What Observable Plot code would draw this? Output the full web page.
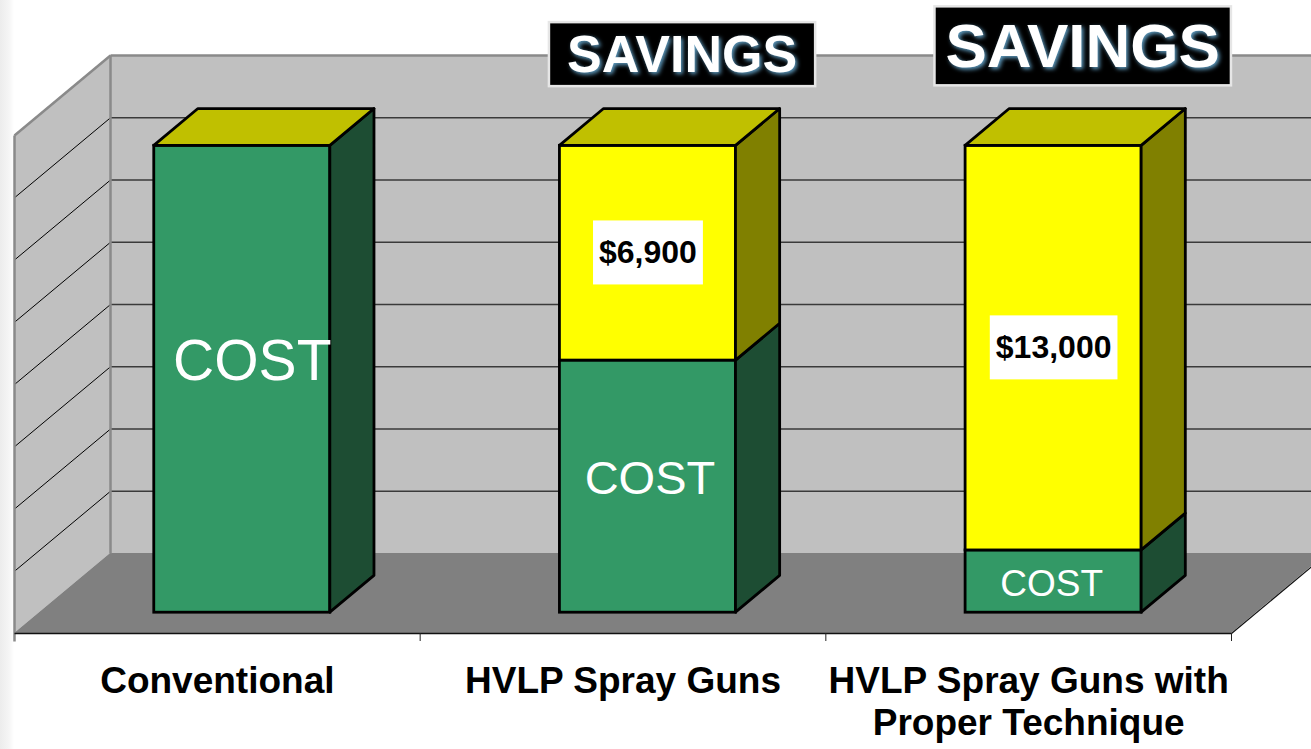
<!DOCTYPE html>
<html>
<head>
<meta charset="utf-8">
<script src="https://cdn.jsdelivr.net/npm/d3@7"></script>
<script src="https://cdn.jsdelivr.net/npm/@observablehq/plot@0.6"></script>
<style>
  html, body { margin: 0; padding: 0; }
  body { width: 1311px; height: 749px; overflow: hidden;
         background: linear-gradient(to right, #ececec 0px, #f5f5f5 9px, #ffffff 14px); }
  #chart svg { display: block; }
</style>
</head>
<body>
<div id="chart"></div>
<script>
// ---------------- data ----------------
const categories = ["Conventional", "HVLP Spray Guns", "HVLP Spray Guns with Proper Technique"];
const cost = [15000, 8100, 2000];
const savings = [0, 6900, 13000];
const savingsText = ["", "$6,900", "$13,000"];
const costText = "COST";
const headText = "SAVINGS";
const gridValues = [2000, 4000, 6000, 8000, 10000, 12000, 14000];
const valueMax = 16000;

// ---------------- layout / style ----------------
const W = 1311, H = 749;
const margin = {top: 135, right: 80, bottom: 116, left: 14};
const n = categories.length;
const pxPerU = (W - margin.left - margin.right) / n;
const pxPerV = (H - margin.top - margin.bottom) / valueMax;
const depthPx = [96, 80];                 // full floor depth, in pixels
const KX = depthPx[0] / pxPerU;           // depth -> x units
const KY = depthPx[1] / pxPerV;           // depth -> value units
const barW = 0.434, d0 = 0.26, d1 = 0.72; // bar width (band fraction) and depth span
const tickPx = 8;
const colors = {
  wall: "#C0C0C0", floor: "#808080", wallEdge: "#8a8a8a", grid: "#3a3a3a",
  costFront: "#339966", costSide: "#1D4D33",
  savFront: "#FFFF00", savSide: "#808000", savTop: "#C0C000"
};
const barStroke = 2.8;
const costSize = [57, 47, 37];
const costShift = [[10, -18], [2, -8], [-2, 3]];   // px
const savSize = 32;
const savPad = [6, 14];
const headSize = {1: 52, 2: 62};
const headShift = {1: [12, 0], 2: [7, -8]};         // px
const headPad = {52: [18, 3], 62: [11, 5]};

// ---------------- derived tables ----------------
const bars = categories.map((c, i) => ({
  i, c,
  xl: i + 0.5 - barW / 2,
  xr: i + 0.5 + barW / 2,
  cost: cost[i],
  total: cost[i] + savings[i]
}));

const segs = bars.flatMap(b => [
  {id: b.i + "c", xl: b.xl, xr: b.xr, v0: 0, v1: b.cost, front: colors.costFront, side: colors.costSide},
  {id: b.i + "s", xl: b.xl, xr: b.xr, v0: b.cost, v1: b.total, front: colors.savFront, side: colors.savSide}
]).filter(s => s.v1 > s.v0);

const sideData = segs.flatMap(s => [d0, d1].map(d => ({
  id: s.id, fill: s.side, x: s.xr + d * KX, y1: s.v0 + d * KY, y2: s.v1 + d * KY
})));

const topData = bars.flatMap(b => [d0, d1].map(d => ({
  id: b.i, y: b.total + d * KY, x1: b.xl + d * KX, x2: b.xr + d * KX
})));

const leftWall = [{x: 0, y1: 0, y2: valueMax}, {x: KX, y1: KY, y2: valueMax + KY}];
const floor = [{y: 0, x1: 0, x2: n}, {y: KY, x1: KX, x2: n + KX}];

const wallEdges = [
  {x1: 0, y1: -tickPx / pxPerV, x2: 0, y2: valueMax},
  {x1: 0, y1: valueMax, x2: KX, y2: valueMax + KY},
  {x1: KX, y1: KY, x2: KX, y2: valueMax + KY},
  {x1: KX, y1: valueMax + KY, x2: n + 2 * KX, y2: valueMax + KY}
];
const floorEdges = [
  {x1: 0, y1: 0, x2: n, y2: 0},
  {x1: n, y1: 0, x2: n + KX, y2: KY}
];
const boundaries = Array.from({length: n + 1}, (_, k) => k);

const withSavings = bars.filter(b => savings[b.i] > 0);

// ---------------- plot ----------------
const chart = Plot.plot({
  width: W, height: H,
  marginTop: margin.top, marginRight: margin.right,
  marginBottom: margin.bottom, marginLeft: margin.left,
  x: {domain: [0, n], axis: null},
  y: {domain: [0, valueMax], axis: null},
  color: {type: "identity"},
  style: {fontFamily: "Arial, 'Liberation Sans', sans-serif", background: "transparent", overflow: "visible"},
  marks: [
    // walls and floor
    Plot.rect([0], {x1: KX, x2: n + 2 * KX, y1: KY, y2: valueMax + KY, fill: colors.wall}),
    Plot.area(leftWall, {x1: "x", y1: "y1", y2: "y2", fill: colors.wall}),
    Plot.area(floor, {y1: "y", x1: "x1", x2: "x2", fill: colors.floor}),
    // gridlines
    Plot.link(gridValues, {x1: KX, x2: n + 2 * KX, y1: v => v + KY, y2: v => v + KY, stroke: colors.grid, strokeWidth: 1.6}),
    Plot.link(gridValues, {x1: 0, y1: v => v, x2: KX, y2: v => v + KY, stroke: "#000", strokeWidth: 1}),
    Plot.link(wallEdges, {x1: "x1", y1: "y1", x2: "x2", y2: "y2", stroke: colors.wallEdge, strokeWidth: 2.5}),
    Plot.link(floorEdges, {x1: "x1", y1: "y1", x2: "x2", y2: "y2", stroke: "#111", strokeWidth: 1.3}),
    Plot.ruleX(boundaries.slice(1), {y1: 0, y2: -tickPx / pxPerV, stroke: "#222", strokeWidth: 1}),
    // bars
    Plot.rect(segs, {
      x1: s => s.xl + d0 * KX, x2: s => s.xr + d0 * KX,
      y1: s => s.v0 + d0 * KY, y2: s => s.v1 + d0 * KY,
      fill: "front", stroke: "#000", strokeWidth: barStroke
    }),
    Plot.area(sideData, {x1: "x", y1: "y1", y2: "y2", z: "id", fill: "fill", stroke: "#000", strokeWidth: barStroke, strokeLinejoin: "round"}),
    Plot.area(topData, {y1: "y", x1: "x1", x2: "x2", z: "id", fill: colors.savTop, stroke: "#000", strokeWidth: barStroke, strokeLinejoin: "round"}),
    // COST labels
    Plot.text(bars, {
      x: b => b.i + 0.5 + d0 * KX + costShift[b.i][0] / pxPerU,
      y: b => b.cost / 2 + d0 * KY - costShift[b.i][1] / pxPerV,
      text: () => costText,
      fontSize: b => costSize[b.i],
      fill: "white"
    }),
    // savings value labels
    Plot.text(withSavings, {
      x: b => b.i + 0.5 + d0 * KX,
      y: b => (b.cost + b.total) / 2 + d0 * KY,
      text: b => savingsText[b.i],
      fontSize: savSize, fontWeight: "bold", fill: "black"
    }),
    // SAVINGS headers
    Plot.text(withSavings, {
      x: b => b.i + 0.5 + (d0 + d1) / 2 * KX + headShift[b.i][0] / pxPerU,
      y: b => valueMax + KY - headShift[b.i][1] / pxPerV,
      text: () => headText,
      fontSize: b => headSize[b.i], fontWeight: "bold", fill: "white"
    }),
    // category labels
    Plot.text(categories, {
      x: (d, i) => i + 0.5, y: 0, dy: 30,
      lineAnchor: "top", lineWidth: 11, lineHeight: 1.13,
      fontSize: 37, fontWeight: "bold", fill: "black"
    })
  ]
});

document.getElementById("chart").append(chart);

// boxes behind the boxed labels (sized from the rendered text)
function addBox(t, fill, stroke, strokeWidth, pad) {
  const b = t.getBBox();
  const [px, py] = pad;
  const r = document.createElementNS("http://www.w3.org/2000/svg", "rect");
  r.setAttribute("x", b.x - px);
  r.setAttribute("y", b.y - py);
  r.setAttribute("width", b.width + 2 * px);
  r.setAttribute("height", b.height + 2 * py);
  r.setAttribute("fill", fill);
  if (stroke) { r.setAttribute("stroke", stroke); r.setAttribute("stroke-width", strokeWidth); }
  const tr = t.getAttribute("transform");
  if (tr) r.setAttribute("transform", tr);
  t.parentNode.insertBefore(r, t);
}
const valueTexts = new Set(savingsText.filter(s => s));
Array.from(chart.querySelectorAll("text")).forEach(t => {
  const s = t.textContent;
  if (valueTexts.has(s)) {
    addBox(t, "#ffffff", null, 0, savPad);
  } else if (s === headText) {
    const fs = Math.round(parseFloat(t.getAttribute("font-size") || getComputedStyle(t).fontSize));
    addBox(t, "#000000", "#e6e6e6", 2.5, headPad[fs] || [12, 3]);
    t.style.filter = "drop-shadow(2px 2px 2px #5f9cc0)";
  }
});
</script>
</body>
</html>
